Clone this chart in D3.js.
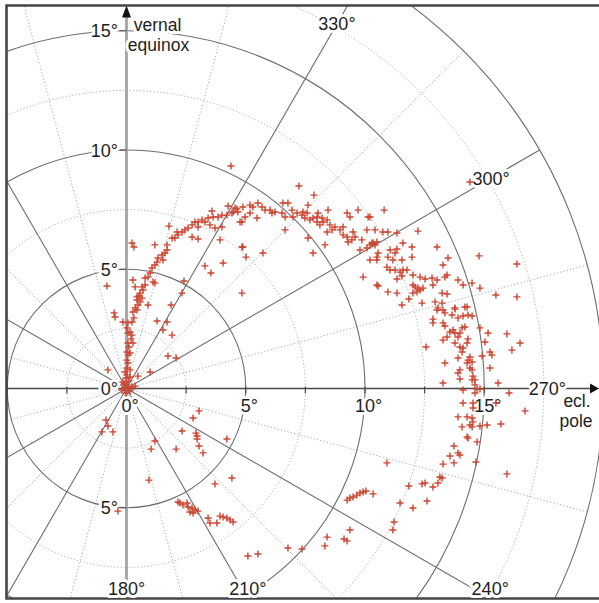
<!DOCTYPE html>
<html><head><meta charset="utf-8">
<script src="https://cdn.jsdelivr.net/npm/d3@7"></script>
<style>html,body{margin:0;padding:0;background:#fff;} svg{display:block;}</style>
</head><body>
<svg id="c" width="599" height="603"></svg>
<script>
// ---- data (degrees in the projection plane) ----
const points = [
[4.38,9.33],[4.26,7.65],[4.55,7.57],[4.67,7.40],[4.42,7.36],[4.21,7.27],[4.00,7.27],[3.84,7.19],[3.58,7.44],[3.63,7.19],[3.42,7.15],[3.29,6.98],[3.17,7.07],[3.00,6.98],[2.87,6.98],[2.75,6.86],[3.00,6.77],[2.58,6.73],[2.45,6.65],[2.33,6.56],[2.16,6.44],[2.12,6.56],[2.03,6.31],[1.91,6.31],[2.75,6.35],[3.00,6.27],[1.78,6.81],[1.70,6.02],[1.70,5.81],[1.61,5.68],[1.49,5.60],[1.53,5.39],[1.32,5.47],[1.28,5.30],[1.19,5.18],[1.07,5.05],[0.99,4.84],[0.90,4.67],[0.78,4.63],[1.11,4.47],[1.19,4.42],[0.78,4.34],[0.65,4.26],[0.36,4.26],[0.27,4.55],[0.57,4.00],[0.44,3.84],[0.65,3.79],[1.19,6.02],[0.23,6.10],[0.31,5.93],[-0.82,4.30],[3.29,5.14],[3.54,4.84],[4.05,5.26],[3.92,6.23],[4.84,5.93],[4.84,4.00],[2.41,4.51],[2.33,4.00],[4.84,6.98],[4.00,6.77],[3.71,6.73],[3.50,6.86],
[7.23,8.49],[7.86,8.11],[4.47,7.40],[4.63,7.53],[4.88,7.61],[5.18,7.69],[5.30,7.61],[5.51,7.78],[5.68,7.61],[5.81,7.48],[6.02,7.48],[6.10,7.36],[6.23,7.40],[5.18,7.36],[5.47,7.15],[4.76,6.98],[4.97,7.19],[6.52,7.36],[6.56,7.78],[6.77,7.78],[6.94,7.48],[6.98,7.19],[6.65,7.19],[7.15,7.36],[7.36,7.27],[7.40,7.40],[7.57,7.36],[7.61,7.69],[7.48,7.15],[7.69,7.07],[7.82,7.15],[7.99,7.19],[8.03,7.36],[8.20,7.15],[8.24,6.98],[8.41,7.07],[8.11,6.86],[7.99,6.98],[8.45,7.48],[8.53,6.86],[8.62,6.65],[8.74,6.77],[8.41,6.56],[8.95,6.65],[9.08,6.77],[9.08,6.44],[9.25,6.35],[9.25,7.36],[9.37,7.19],[9.50,6.56],[9.58,6.35],[9.45,6.23],[9.29,6.14],[9.71,7.48],[9.87,6.23],[10.08,6.65],[10.13,7.19],[10.42,6.65],[10.21,6.02],[10.34,6.10],[10.50,6.14],[9.79,5.81],[10.08,5.89],[10.55,5.68],[10.21,5.39],[10.50,5.39],[9.92,4.67],[10.50,4.34],[6.65,6.65],[7.61,6.31],[8.32,6.02],[7.82,5.68],[4.88,5.93],[5.01,5.51],[5.72,5.68],
[10.80,7.48],[12.22,6.60],[13.02,5.93],[13.48,5.47],[14.78,5.56],[16.37,5.22],[10.21,7.19],[10.75,6.56],[10.96,6.56],[11.34,6.52],[10.29,6.10],[10.42,6.02],[11.59,6.10],[11.97,5.93],[11.05,5.81],[11.34,5.85],[11.26,5.68],[10.50,5.51],[10.96,5.51],[11.17,5.39],[11.55,5.39],[11.97,5.51],[10.92,5.09],[11.05,4.97],[11.26,4.97],[11.47,4.88],[11.59,4.97],[11.76,4.97],[11.55,4.72],[11.34,4.59],[12.01,4.76],[12.31,4.67],[12.52,4.59],[12.81,4.63],[13.02,4.55],[13.27,5.18],[13.44,4.76],[13.35,4.67],[12.01,4.34],[12.10,4.26],[12.22,4.21],[12.31,4.13],[12.43,4.21],[12.18,4.05],[12.01,4.00],[12.85,4.34],[13.23,4.00],[13.44,3.96],[13.90,4.55],[14.11,4.34],[14.49,4.42],[14.82,4.21],[15.49,3.92],[16.37,3.84],[10.55,4.30],[10.96,4.05],[11.34,4.00],[11.84,3.75],[11.55,3.50],[12.39,3.58],[13.23,3.58],[13.06,3.38],[13.77,3.38],[14.28,3.42],
[12.94,3.63],[13.02,3.29],[13.27,3.29],[13.35,3.17],[13.77,3.33],[13.65,3.08],[14.19,3.42],[14.11,3.04],[14.32,3.08],[14.49,3.04],[12.85,2.91],[12.85,2.75],[13.27,2.75],[13.35,2.62],[13.90,2.96],[14.07,2.54],[14.19,2.58],[13.69,2.45],[13.56,2.37],[13.77,2.33],[13.98,2.33],[14.82,2.54],[15.16,2.33],[15.95,2.29],[13.44,2.16],[13.90,2.16],[14.32,2.08],[13.27,2.03],[13.77,1.91],[14.28,1.91],[13.98,1.74],[14.11,1.70],[14.07,1.53],[15.03,1.95],[16.50,1.91],[15.24,1.53],[15.32,1.40],[16.16,1.61],[12.56,1.74],[14.91,1.36],[13.90,1.28],[14.40,1.32],[14.32,1.19],[14.49,1.11],[14.28,1.07],[14.40,0.86],[14.49,0.78],[13.35,1.07],[13.98,0.78],[15.24,0.86],[13.90,0.65],[14.53,0.52],[14.49,0.36],[14.61,0.36],[13.98,0.40],[13.27,0.23],[14.61,0.15],[14.70,-0.02],[14.82,-0.02],[15.58,0.23],[14.11,-0.06],[14.61,-0.19],[16.04,-0.19],[14.11,-0.61],[14.53,-0.61],[14.53,-0.82],[16.71,-0.94],[13.90,-1.19],[14.28,-1.19],[14.49,-1.24],[14.53,-1.40],[14.07,-1.61],[14.49,-1.61],[14.82,-1.57],[15.12,-1.53],[15.70,-1.49],[15.49,-0.61],
[14.40,-1.53],[14.28,-2.03],[14.32,-2.08],[14.70,-2.24],[13.73,-2.41],[13.90,-2.70],[13.98,-2.79],[13.56,-2.83],[13.73,-3.12],[13.27,-3.17],[14.65,-3.08],[15.95,-3.58],[10.92,-3.12],[13.14,-3.71],[13.23,-3.75],[13.06,-3.96],[12.39,-4.00],[12.52,-3.96],[12.85,-4.13],[11.84,-4.09],[12.60,-4.72],[11.47,-4.80],[12.01,-5.01],[11.22,-5.60],[11.17,-5.93],
[4.42,-3.75],[9.25,-4.68],[9.37,-4.59],[9.50,-4.55],[9.66,-4.47],[9.79,-4.38],[9.92,-4.34],[10.04,-4.30],[10.34,-4.42],[9.37,-5.93],[8.41,-6.23],[9.12,-6.31],[9.25,-6.39],[8.32,-6.60],[6.77,-6.69],[7.36,-6.73],[5.09,-7.02],[5.51,-6.94],
[-0.86,-1.32],[-0.78,-1.57],[-1.03,-1.82],[-0.57,-1.82],[3.04,-0.94],[2.79,-1.24],[2.33,-1.78],[2.91,-1.87],[2.96,-1.99],[2.96,-2.12],[4.21,-2.12],[1.19,-2.20],[1.03,-2.54],[2.08,-2.54],[3.04,-2.41],[3.21,-2.70],[3.71,-4.00],[0.94,-3.84],[-0.36,-5.14],
[2.16,-4.76],[2.24,-4.80],[2.37,-4.88],[2.54,-4.80],[2.58,-4.97],[2.75,-5.01],[2.66,-5.18],[2.87,-5.09],[2.79,-5.22],[3.00,-5.14],[3.42,-5.43],[3.50,-5.64],[3.79,-5.64],[3.92,-5.35],[4.05,-5.39],[4.21,-5.43],[4.34,-5.51],[4.47,-5.60],
[0.44,3.71],[0.57,3.63],[0.48,3.50],[0.36,3.38],[0.27,3.21],[0.44,3.29],[0.90,3.50],[1.87,3.50],[-0.52,3.17],[-0.48,3.00],[-0.15,2.79],[0.23,2.79],[0.06,2.75],[1.28,2.83],[1.70,2.79],[0.15,2.37],[0.23,2.24],[0.06,2.33],[1.53,2.45],[1.91,2.24],[0.06,1.91],[0.27,1.91],[0.02,1.53],[0.06,1.40],[0.15,1.49],[1.74,1.36],[2.08,1.28],[0.02,1.19],[0.06,1.07],[0.02,0.86],[-0.06,0.69],[0.15,0.78],[-0.78,0.78],[0.99,0.69],[0.02,0.57],[0.15,0.48],[0.48,0.52],[-0.15,0.27],[0.02,0.15],[-0.06,0.02],[0.06,0.02],[0.23,0.06],[0.36,0.10],[-0.02,-0.19],[-0.10,0.19],[0.15,-0.10],[-0.19,-0.06],[0.10,0.31],[-0.02,0.44],[0.10,1.74],[0.19,2.08],[0.02,2.54],[0.31,2.96],[0.52,3.88],[0.69,4.13],
[14.40,8.66]
];
const ringsSolid = [5, 10, 15, 20];
const ringsDotted = [2.5, 7.5, 12.5, 17.5];
const radialSolid = [0, 30, 60, 90, 120, 150, 180, 210, 240, 270, 300, 330];
const radialDotted = [15, 45, 75, 105, 135, 165, 195, 225, 255, 285, 315, 345];
const angleLabelVals = [180, 210, 240, 270, 300, 330];
const angleLabelText = ["180°", "210°", "240°", "270°", "300°", "330°"];
const yTickVals = [15, 10, 5, 0, -5];
const yTickText = ["15°", "10°", "5°", "0°", "5°"];
const xLabelVals = [0, 5, 10, 15];
const xLabelText = ["0°", "5°", "10°", "15°"];
const xMinorTicks = [-5, -2.5, 2.5, 5, 7.5, 10, 12.5, 15];
const axisNames = {up: ["vernal", "equinox"], right: ["ecl.", "pole"]};

// ---- layout ----
const svg = d3.select("#c");
const F = {l: 6.5, t: 5.5, r: 603, b: 598.5};
const x = d3.scaleLinear().domain([0, 20]).range([126.5, 126.5 + 477]);
const y = d3.scaleLinear().domain([0, 20]).range([388.5, 388.5 - 477]);
const cx = x(0), cy = y(0);
const rad = r => x(r) - x(0);
const pol = (ang, r) => { const a = ang * Math.PI / 180; return [x(-r * Math.sin(a)), y(r * Math.cos(a))]; };
const FONT = "'Liberation Sans', Arial, Helvetica, sans-serif";
const FS = 18;

svg.append("defs").append("clipPath").attr("id", "clip")
  .append("rect").attr("x", F.l).attr("y", F.t).attr("width", F.r - F.l).attr("height", F.b - F.t);
const g = svg.append("g").attr("clip-path", "url(#clip)");

// dotted grid
g.selectAll(".rd").data(ringsDotted).join("circle")
  .attr("cx", cx).attr("cy", cy).attr("r", d => rad(d))
  .attr("fill", "none").attr("stroke", "#a8a8a8").attr("stroke-width", 1).attr("stroke-dasharray", "1.2,2.2");
g.selectAll(".ld").data(radialDotted).join("line")
  .attr("x1", cx).attr("y1", cy).attr("x2", d => pol(d, 20)[0]).attr("y2", d => pol(d, 20)[1])
  .attr("stroke", "#a8a8a8").attr("stroke-width", 1).attr("stroke-dasharray", "1.2,2.2");
// solid grid
g.selectAll(".rs").data(ringsSolid).join("circle")
  .attr("cx", cx).attr("cy", cy).attr("r", d => rad(d))
  .attr("fill", "none").attr("stroke", "#6e6e6e").attr("stroke-width", 1.1);
g.selectAll(".ls").data(radialSolid.filter(d => d % 90 !== 0)).join("line")
  .attr("x1", cx).attr("y1", cy).attr("x2", d => pol(d, 20)[0]).attr("y2", d => pol(d, 20)[1])
  .attr("stroke", "#6e6e6e").attr("stroke-width", 1.1);

// axes
g.append("line").attr("x1", cx).attr("x2", cx).attr("y1", F.b).attr("y2", F.t + 8)
  .attr("stroke", "#a4a4a4").attr("stroke-width", 2.8);
g.append("line").attr("x1", F.l).attr("x2", 592).attr("y1", cy).attr("y2", cy)
  .attr("stroke", "#4a4a4a").attr("stroke-width", 1.6);
g.selectAll(".xt").data(xMinorTicks).join("line")
  .attr("x1", d => x(d)).attr("x2", d => x(d)).attr("y1", cy - 2).attr("y2", cy + 5)
  .attr("stroke", "#4a4a4a").attr("stroke-width", 1.2);
g.selectAll(".yt").data(yTickVals.filter(d => d !== 0)).join("line")
  .attr("x1", cx - 7).attr("x2", cx).attr("y1", d => y(d)).attr("y2", d => y(d))
  .attr("stroke", "#4a4a4a").attr("stroke-width", 1.2);
svg.append("path").attr("d", `M${cx},${F.t}L${cx - 4.5},${F.t + 12}L${cx + 4.5},${F.t + 12}Z`).attr("fill", "#111");
svg.append("path").attr("d", `M599,${cy}L590,${cy - 5}L590,${cy + 5}Z`).attr("fill", "#111");

// frame
svg.append("path").attr("d", `M${F.r},${F.t}H${F.l}V${F.b}H${F.r}`)
  .attr("fill", "none").attr("stroke", "#454545").attr("stroke-width", 2.6);

// labels
function styleText(t, fs) {
  return t.attr("font-family", FONT).attr("font-size", fs || FS).attr("fill", "#1e1e1e")
    .attr("stroke", "#fff").attr("stroke-width", 6).attr("stroke-linejoin", "round")
    .attr("paint-order", "stroke");
}
function label(px, py, txt, anchor, fs) {
  styleText(svg.append("text").attr("x", px).attr("y", py).attr("text-anchor", anchor || "middle"), fs).text(txt);
}
yTickVals.forEach((v, i) => label(118, y(v) + 6.5, yTickText[i], "end"));
xLabelVals.forEach((v, i) => label(x(v) + 3.5, cy + 23, xLabelText[i], "middle"));
angleLabelVals.forEach((a, i) => {
  let [px, py] = pol(a, 17.65);
  if (py > 588) {
    const ar = a * Math.PI / 180;
    const t = (F.b - cy) / (-Math.cos(ar));
    px = cx - t * Math.sin(ar);
    py = 588;
  }
  label(px, py + 6.5, angleLabelText[i], "middle");
});
label(157.5, 30.5, axisNames.up[0], "middle", 17.5);
label(158.5, 50.5, axisNames.up[1], "middle", 17.5);
label(577, 407, axisNames.right[0], "middle", 17.5);
label(576, 427, axisNames.right[1], "middle", 17.5);

// points
svg.append("g").selectAll("path").data(points).join("path")
  .attr("transform", d => `translate(${x(d[0])},${y(d[1])})`)
  .attr("d", "M-3.5,0H3.5M0,-3.5V3.5")
  .attr("stroke", "#cc4430").attr("stroke-width", 1.4).attr("fill", "none");
</script>
</body></html>
